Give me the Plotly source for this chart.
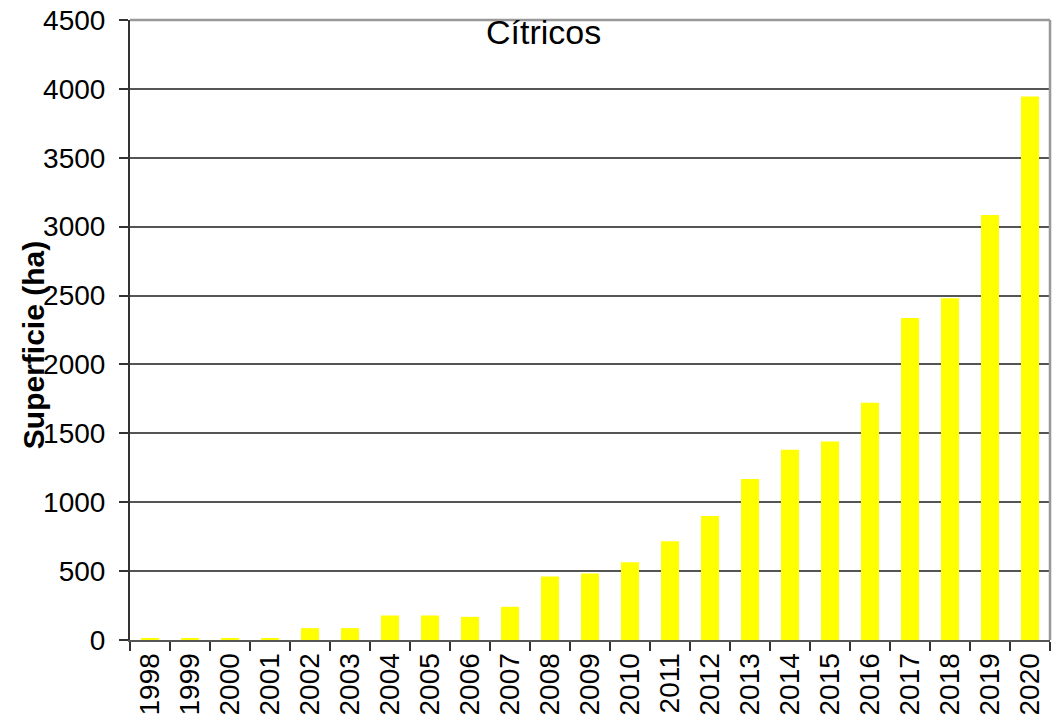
import plotly.graph_objects as go

years = [str(y) for y in range(1998, 2021)]
superficie = [12, 12, 12, 12, 86, 86, 178, 178, 168, 241, 461, 483, 564, 717,
              900, 1168, 1380, 1441, 1722, 2337, 2480, 3085, 3944]
y_ticks = [0, 500, 1000, 1500, 2000, 2500, 3000, 3500, 4000, 4500]

FONT = "Liberation Sans, Arial, sans-serif"

fig = go.Figure()
fig.add_trace(go.Bar(x=years, y=superficie, marker=dict(color="#FFFF00", line=dict(width=0)),
                     showlegend=False))

fig.update_layout(
    width=1056, height=726,
    margin=dict(l=130, r=6, t=20, b=86),
    paper_bgcolor="white", plot_bgcolor="white",
    bargap=0.55,
    font=dict(family=FONT, color="black", size=28),
    xaxis=dict(
        type="category", tickangle=-90, tickson="boundaries", automargin=False,
        ticks="outside", ticklen=9, tickwidth=1.5, tickcolor="#333",
        ticklabeloverflow="allow",
        showline=True, linecolor="#555", linewidth=2,
        showgrid=False, tickfont=dict(size=28, family=FONT),
    ),
    yaxis=dict(
        range=[0, 4500], tickvals=y_ticks, automargin=False,
        ticks="outside", ticklen=9, tickwidth=1.5, tickcolor="#333",
        ticklabelstandoff=8, ticklabeloverflow="allow",
        showline=True, linecolor="#333", linewidth=2,
        showgrid=True, gridcolor="#555", gridwidth=1.5,
        zeroline=False, tickfont=dict(size=28, family=FONT),
    ),
    shapes=[
        dict(type="line", xref="x domain", yref="y domain", x0=0, x1=1, y0=1, y1=1,
             layer="above", line=dict(color="#999", width=2.5)),
        dict(type="line", xref="x domain", yref="y domain", x0=1, x1=1, y0=0, y1=1,
             layer="above", line=dict(color="#999", width=2.5)),
    ],
    annotations=[
        dict(text="Cítricos", xref="paper", yref="paper", x=0.449, y=0.981,
             xanchor="center", yanchor="middle", showarrow=False,
             font=dict(size=34, family=FONT)),
        dict(text="<b>Superficie (ha)</b>", xref="paper", yref="paper", x=-0.104, y=0.476,
             xanchor="center", yanchor="middle", textangle=-90, showarrow=False,
             font=dict(size=30, family=FONT)),
    ],
)

fig.write_html("out.html", config={"displayModeBar": False},
               post_script="document.body.style.margin='0px';")
